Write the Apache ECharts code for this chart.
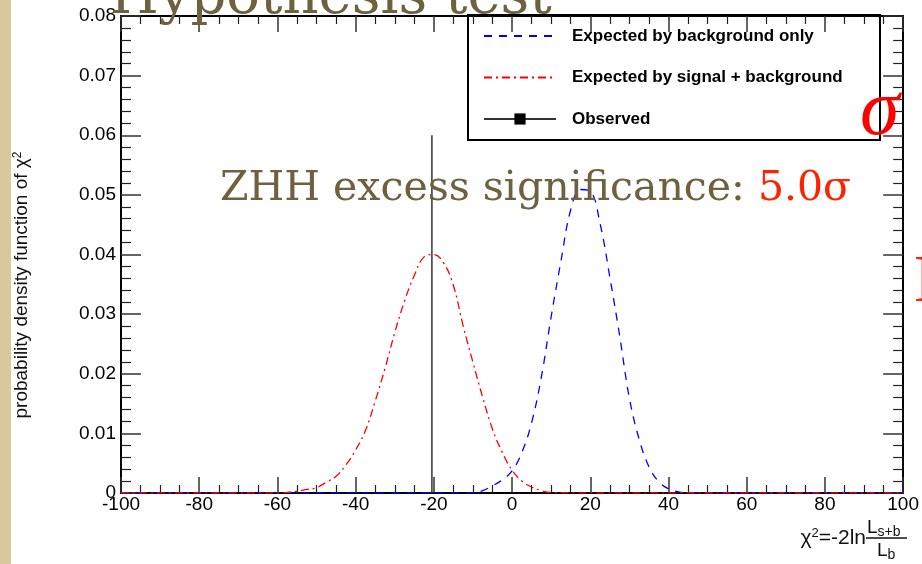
<!DOCTYPE html>
<html>
<head>
<meta charset="utf-8">
<script src="https://cdn.jsdelivr.net/npm/echarts@6/dist/echarts.min.js"></script>
<style>
    html, body { margin: 0; padding: 0; background: #fff; }
    #chart { width: 922px; height: 564px; }
</style>
</head>
<body>
<div id="chart"></div>
<script>
'use strict';

// expected by signal + background (red, dash-dot)
var sbX = [-100, -80, -60, -57.5, -55, -52.5, -50, -47.5, -45, -42.5, -40, -37.5, -35, -32.5, -30, -27.5, -25, -22.5, -20, -17.5, -15, -12.5, -10, -7.5, -5, -2.5, 0, 2.5, 5, 7.5, 10, 20, 100];
var sbY = [0, 0, 0, 0.0001, 0.0003, 0.0006, 0.0009, 0.0018, 0.0028, 0.0047, 0.0072, 0.0105, 0.0154, 0.0209, 0.0269, 0.0322, 0.0365, 0.0396, 0.0400, 0.0386, 0.0348, 0.0280, 0.0219, 0.0160, 0.0107, 0.0068, 0.0038, 0.0020, 0.0010, 0.0004, 0.0001, 0, 0];

// expected by background only (blue, dashed)
var bX = [-100, -20, -10, -7.5, -5, -2.5, 0, 2.5, 5, 7.5, 10, 12.5, 15, 17.5, 20, 22.5, 25, 27.5, 30, 32.5, 35, 37.5, 40, 42.5, 45, 60, 100];
var bY = [0, 0, 0, 0.0004, 0.0012, 0.0022, 0.0037, 0.0068, 0.0118, 0.0195, 0.0296, 0.0389, 0.0475, 0.0509, 0.0506, 0.0452, 0.0362, 0.0264, 0.0159, 0.0090, 0.0044, 0.0019, 0.0007, 0.0002, 0, 0, 0];

// observed value
var obsX = [-20.5, -20.5];
var obsY = [0, 0.06];

var xTicks = { min: -100, max: 100, step: 20 };
var yTicks = { min: 0, max: 0.08, step: 0.01 };

var olive = '#6f6140';
var sans = '"Liberation Sans", Arial, sans-serif';

function pairs(xs, ys) {
    var out = [];
    for (var i = 0; i < xs.length; i++) {
        out.push([xs[i], ys[i]]);
    }
    return out;
}

function makeX(pos, labels) {
    return {
        type: 'value',
        position: pos,
        min: xTicks.min,
        max: xTicks.max,
        interval: xTicks.step,
        axisLine: { show: true, onZero: false, lineStyle: { color: '#000', width: 2 } },
        axisTick: { show: true, inside: true, length: 16, lineStyle: { color: '#333', width: 1.5 } },
        minorTick: { show: true, splitNumber: 4, length: 8, lineStyle: { color: '#222', width: 1.2 } },
        axisLabel: { show: labels, margin: 2, color: '#000', fontSize: 19, fontFamily: sans },
        splitLine: { show: false }
    };
}

function makeY(pos, labels) {
    return {
        type: 'value',
        position: pos,
        min: yTicks.min,
        max: yTicks.max,
        interval: yTicks.step,
        axisLine: { show: true, onZero: false, lineStyle: { color: '#000', width: 2 } },
        axisTick: { show: true, inside: true, length: 20, lineStyle: { color: '#333', width: 1.5 } },
        minorTick: { show: true, splitNumber: 5, length: 10, lineStyle: { color: '#222', width: 1.2 } },
        axisLabel: {
            show: labels, margin: 5, color: '#000', fontSize: 19, fontFamily: sans,
            formatter: function (v) { return v === 0 ? '0' : v.toFixed(2); }
        },
        splitLine: { show: false }
    };
}

var chart = echarts.init(document.getElementById('chart'));

var option = {
    animation: false,
    backgroundColor: '#fff',
    grid: { left: 121, right: 14, top: 16, bottom: 71 },
    xAxis: [makeX('bottom', true), makeX('top', false)],
    yAxis: [makeY('left', true), makeY('right', false)],
    legend: {
        orient: 'vertical',
        left: 483,
        top: 27.5,
        padding: 0,
        itemWidth: 72,
        itemHeight: 14,
        itemGap: 24.5,
        textStyle: { fontFamily: sans, fontWeight: 'bold', fontSize: 17, color: '#000', padding: [0, 0, 0, 11] },
        data: [
            // lines only, no marker
            { name: 'Expected by background only', itemStyle: { opacity: 0 } },
            { name: 'Expected by signal + background', itemStyle: { opacity: 0 } },
            'Observed'
        ]
    },
    series: [
        {
            name: 'Expected by background only',
            type: 'line',
            data: pairs(bX, bY),
            smooth: 0.4,
            symbol: 'none',
            color: '#0000ff',
            lineStyle: { color: '#0000ff', width: 1.3, type: [8, 7] },
            z: 3
        },
        {
            name: 'Expected by signal + background',
            type: 'line',
            data: pairs(sbX, sbY),
            smooth: 0.4,
            symbol: 'none',
            color: '#ff0000',
            lineStyle: { color: '#ff0000', width: 1.3, type: [8, 4, 2, 4] },
            z: 4
        },
        {
            name: 'Observed',
            type: 'line',
            data: pairs(obsX, obsY),
            symbol: 'rect',
            symbolSize: 10,
            showSymbol: false,
            color: '#000',
            lineStyle: { color: '#333', width: 1.5 },
            z: 5
        }
    ],
    graphic: [
        // marbled slide edge
        { type: 'rect', left: 0, top: 0, shape: { width: 11, height: 564 }, style: { fill: '#d8c89b' }, z: 0 },
        // legend frame
        { type: 'rect', shape: { x: 468, y: 15, width: 412, height: 125 }, style: { fill: 'none', stroke: '#000', lineWidth: 2 }, z: 10 },
        // slide title, cut by the top of the page
        {
            type: 'text', x: 110, y: -2, z: 20,
            style: { text: 'Hypothesis test', fill: olive, font: '56px "DejaVu Serif", serif', align: 'left', verticalAlign: 'middle' }
        },
        {
            type: 'text', x: 220, y: 189, z: 20,
            style: {
                text: 'ZHH excess significance: {r|5.0σ}',
                fill: olive, font: '41px "DejaVu Serif", serif', align: 'left', verticalAlign: 'middle',
                rich: { r: { fill: '#ff2200', font: '41px "DejaVu Serif", serif' } }
            }
        },
        {
            type: 'text', x: 860, y: 113, z: 20,
            style: { text: 'σ', fill: '#ff0000', font: 'italic 80px "Liberation Serif", serif', align: 'left', verticalAlign: 'middle' }
        },
        {
            type: 'text', x: 914, y: 283, z: 20,
            style: { text: 'E', fill: '#ff2200', font: '68px "Liberation Serif", serif', align: 'left', verticalAlign: 'middle' }
        },
        // y axis title
        {
            type: 'text', x: 22, y: 285, rotation: Math.PI / 2, z: 20,
            style: {
                text: 'probability density function of χ{sup|2}',
                fill: '#111', font: '19px ' + sans, align: 'center', verticalAlign: 'middle',
                rich: { sup: { fontSize: 12, fontFamily: sans, verticalAlign: 'top', padding: [0, 0, 8, 0] } }
            }
        },
        // x axis title: chi2 = -2 ln (Ls+b / Lb)
        {
            type: 'text', x: 866, y: 538, z: 20,
            style: {
                text: 'χ{sup|2}=-2ln',
                fill: '#111', font: '21px ' + sans, align: 'right', verticalAlign: 'middle',
                rich: { sup: { fontSize: 13, fontFamily: sans, padding: [0, 0, 10, 0] } }
            }
        },
        {
            type: 'text', x: 867, y: 528, z: 20,
            style: {
                text: 'L{sub|s+b}',
                fill: '#111', font: '19px ' + sans, align: 'left', verticalAlign: 'middle',
                rich: { sub: { fontSize: 14, fontFamily: sans, padding: [8, 0, 0, 0] } }
            }
        },
        { type: 'line', shape: { x1: 866, y1: 538, x2: 907, y2: 538 }, style: { stroke: '#111', lineWidth: 1.5 }, z: 20 },
        {
            type: 'text', x: 877, y: 551, z: 20,
            style: {
                text: 'L{sub|b}',
                fill: '#111', font: '19px ' + sans, align: 'left', verticalAlign: 'middle',
                rich: { sub: { fontSize: 14, fontFamily: sans, padding: [8, 0, 0, 0] } }
            }
        }
    ]
};

chart.setOption(option);
</script>
</body>
</html>
